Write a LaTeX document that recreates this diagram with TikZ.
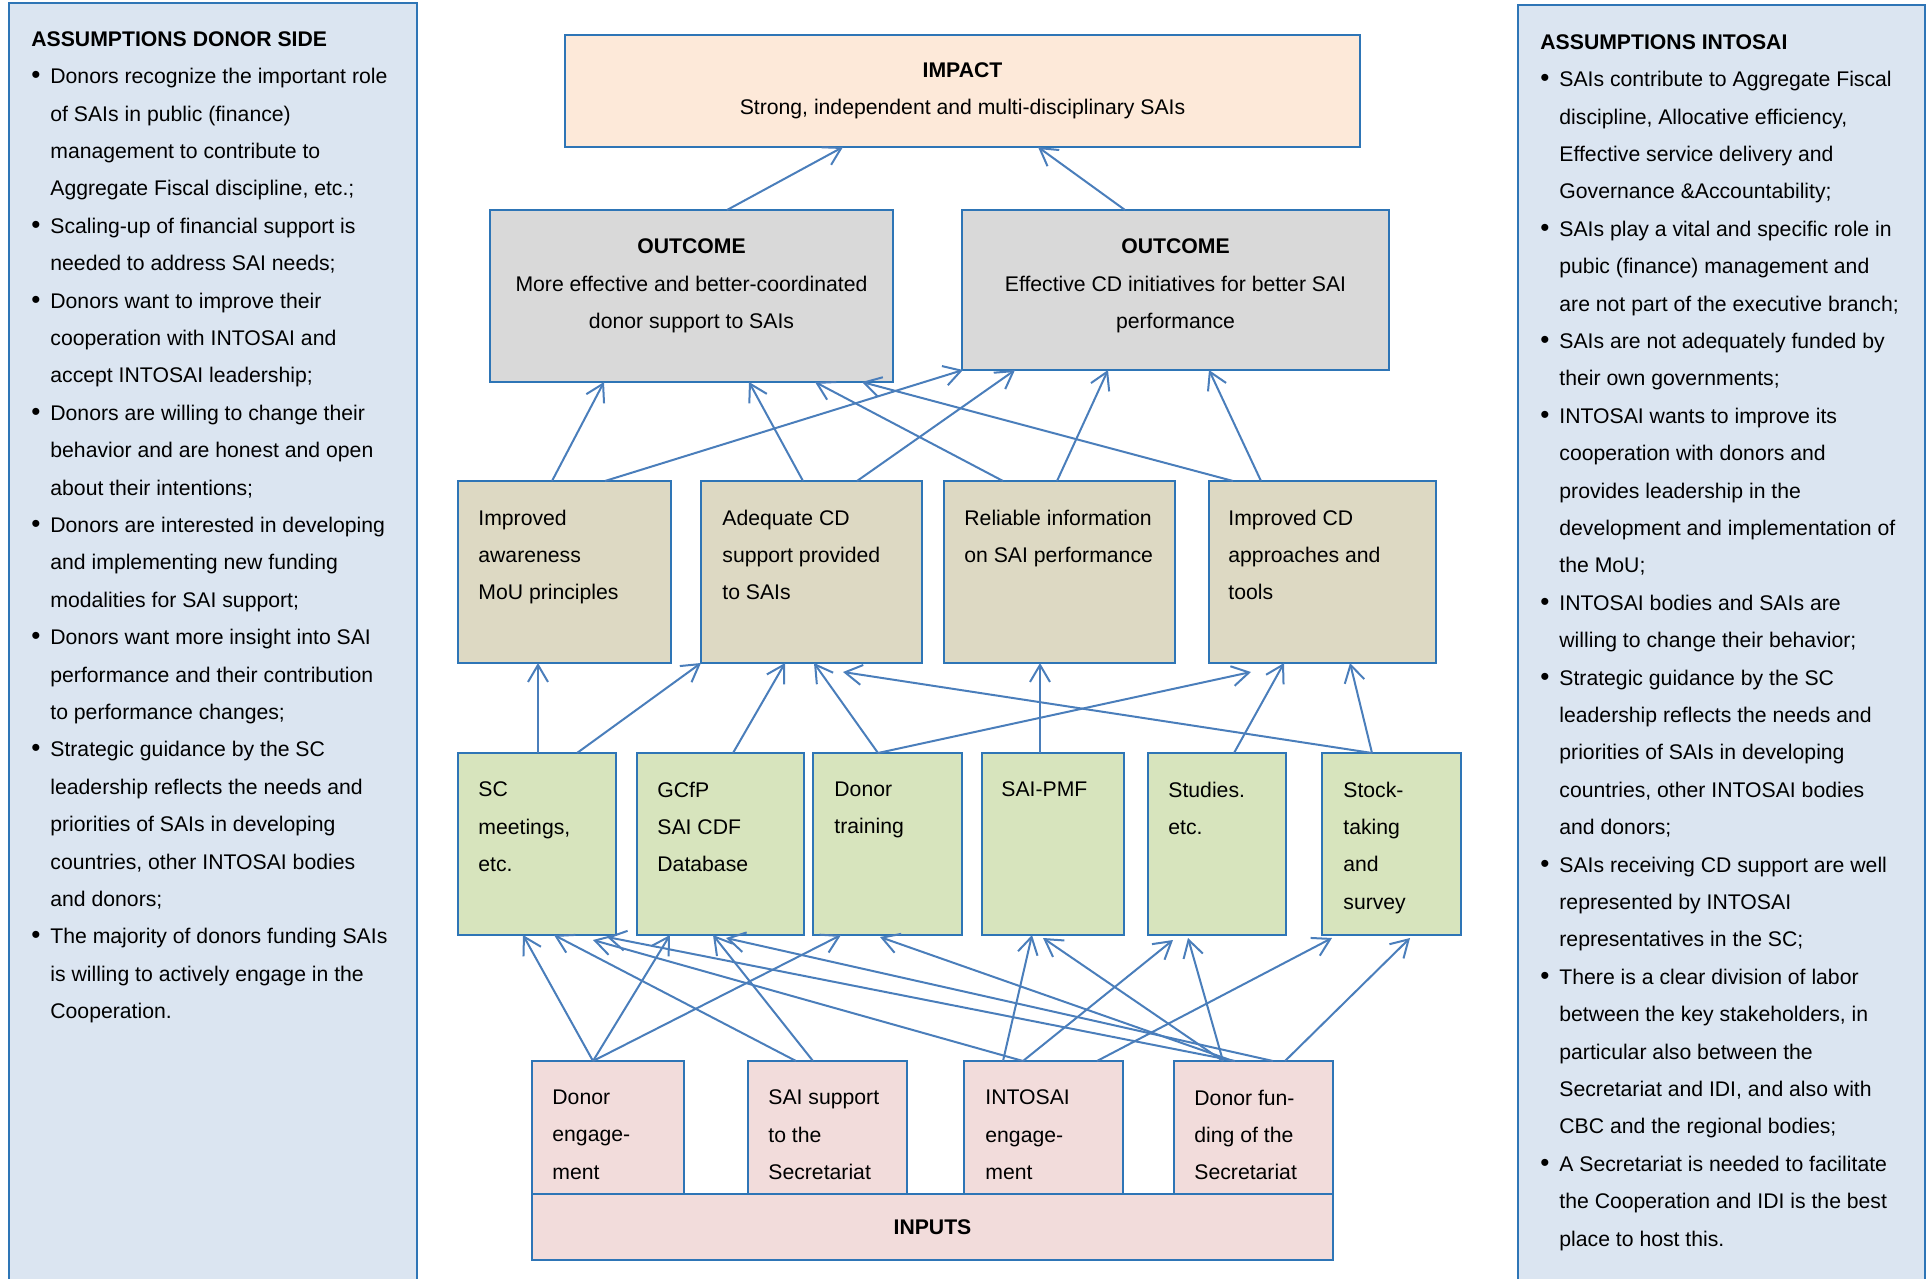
\documentclass[tikz,border=0pt]{standalone}
\usepackage{fontspec}
\setmainfont{Liberation Sans}
\usepackage{tikz}
\usetikzlibrary{positioning,arrows.meta}

\definecolor{boxline}{RGB}{46,117,182}
\definecolor{flowline}{RGB}{74,126,187}
\definecolor{impactfill}{RGB}{253,233,217}
\definecolor{outcomefill}{RGB}{217,217,217}
\definecolor{outputfill}{RGB}{221,217,195}
\definecolor{actfill}{RGB}{215,228,189}
\definecolor{inputfill}{RGB}{242,220,219}
\definecolor{panelfill}{RGB}{219,229,241}

\newcommand{\bul}{\makebox[9.5pt][l]{\fontsize{13}{13}\selectfont\textbullet}}
\newcommand{\ind}{\hspace*{9.5pt}}

\begin{document}
\begin{tikzpicture}[x=0.5pt, y=-0.5pt,
        font=\fontsize{10.6}{18.7}\selectfont,
        cell/.style={draw=boxline, line width=1pt, rectangle, inner sep=0pt, outer sep=0pt},
        impbox/.style={cell, fill=impactfill, align=center},
        outcbox/.style={cell, fill=outcomefill},
        outpbox/.style={cell, fill=outputfill, minimum height=91pt},
        actbox/.style={cell, fill=actfill, minimum height=91pt},
        inpbox/.style={cell, fill=inputfill, minimum height=66.5pt},
        panel/.style={draw=boxline, line width=1.2pt, fill=panelfill, inner sep=0pt, outer sep=0pt,
            anchor=north west, minimum height=650pt},
        btxt/.style={anchor=north west, align=left, inner sep=0pt},
        ctxt/.style={anchor=north, align=center, inner sep=0pt},
        flow/.style={draw=flowline, line width=1pt, -{Straight Barb[length=8.5pt,width=10pt]}}
    ]
        \useasboundingbox (0,0) rectangle (1928,1279);

        % assumption panels
        \node [panel, minimum width=204pt] (donorside) at (9,3) {};
        \node [panel, minimum width=203.5pt] (intosaiside) at (1518,5) {};
        \node [btxt] (donorside-t) at ([xshift=11pt,yshift=-14pt]donorside.north west) {%
            \textbf{ASSUMPTIONS DONOR SIDE}\\
            \bul Donors recognize the important role\\
            \ind of SAIs in public (finance)\\
            \ind management to contribute to\\
            \ind Aggregate Fiscal discipline, etc.;\\
            \bul Scaling-up of financial support is\\
            \ind needed to address SAI needs;\\
            \bul Donors want to improve their\\
            \ind cooperation with INTOSAI and\\
            \ind accept INTOSAI leadership;\\
            \bul Donors are willing to change their\\
            \ind behavior and are honest and open\\
            \ind about their intentions;\\
            \bul Donors are interested in developing\\
            \ind and implementing new funding\\
            \ind modalities for SAI support;\\
            \bul Donors want more insight into SAI\\
            \ind performance and their contribution\\
            \ind to performance changes;\\
            \bul Strategic guidance by the SC\\
            \ind leadership reflects the needs and\\
            \ind priorities of SAIs in developing\\
            \ind countries, other INTOSAI bodies\\
            \ind and donors;\\
            \bul The majority of donors funding SAIs\\
            \ind is willing to actively engage in the\\
            \ind Cooperation.};
        \node [btxt] (intosaiside-t) at ([xshift=11pt,yshift=-14.5pt]intosaiside.north west) {%
            \textbf{ASSUMPTIONS INTOSAI}\\
            \bul SAIs contribute to Aggregate Fiscal\\
            \ind discipline, Allocative efficiency,\\
            \ind Effective service delivery and\\
            \ind Governance \&Accountability;\\
            \bul SAIs play a vital and specific role in\\
            \ind pubic (finance) management and\\
            \ind are not part of the executive branch;\\
            \bul SAIs are not adequately funded by\\
            \ind their own governments;\\
            \bul INTOSAI wants to improve its\\
            \ind cooperation with donors and\\
            \ind provides leadership in the\\
            \ind development and implementation of\\
            \ind the MoU;\\
            \bul INTOSAI bodies and SAIs are\\
            \ind willing to change their behavior;\\
            \bul Strategic guidance by the SC\\
            \ind leadership reflects the needs and\\
            \ind priorities of SAIs in developing\\
            \ind countries, other INTOSAI bodies\\
            \ind and donors;\\
            \bul SAIs receiving CD support are well\\
            \ind represented by INTOSAI\\
            \ind representatives in the SC;\\
            \bul There is a clear division of labor\\
            \ind between the key stakeholders, in\\
            \ind particular also between the\\
            \ind Secretariat and IDI, and also with\\
            \ind CBC and the regional bodies;\\
            \bul A Secretariat is needed to facilitate\\
            \ind the Cooperation and IDI is the best\\
            \ind place to host this.};

        % impact and outcomes
        \node [impbox, minimum width=397.5pt, minimum height=56pt, anchor=north west] (impact) at (565,35)
            {\textbf{IMPACT}\\Strong, independent and multi-disciplinary SAIs};
        \node [outcbox, minimum width=201.5pt, minimum height=86pt, anchor=north west] (outL) at (490,210) {};
        \node [outcbox, minimum width=213.5pt, minimum height=80pt, anchor=north west] (outR) at (962,210) {};
        \node [ctxt] (outL-t) at ([yshift=-14.2pt]outL.north)
            {\textbf{OUTCOME}\\More effective and better-coordinated\\donor support to SAIs};
        \node [ctxt] (outR-t) at ([yshift=-14.2pt]outR.north)
            {\textbf{OUTCOME}\\Effective CD initiatives for better SAI\\performance};

        % outputs
        \node [outpbox, minimum width=106.5pt, anchor=north west] (aware) at (458,481) {};
        \node [outpbox, minimum width=110.5pt, right=15pt of aware] (adequate) {};
        \node [outpbox, minimum width=115.5pt, right=11pt of adequate] (reliable) {};
        \node [outpbox, minimum width=113.5pt, right=17pt of reliable] (impcd) {};
        \node [btxt] (aware-t) at ([xshift=10pt,yshift=-14.2pt]aware.north west) {Improved\\awareness\\MoU principles};
        \node [btxt] (adequate-t) at ([xshift=10.5pt,yshift=-14.2pt]adequate.north west) {Adequate CD\\support provided\\to SAIs};
        \node [btxt] (reliable-t) at ([xshift=10pt,yshift=-14.2pt]reliable.north west) {Reliable information\\on SAI performance};
        \node [btxt] (impcd-t) at ([xshift=9.5pt,yshift=-14.2pt]impcd.north west) {Improved CD\\approaches and\\tools};

        % activities
        \node [actbox, minimum width=79pt, anchor=north west] (sc) at (458,753) {};
        \node [actbox, minimum width=83.5pt, right=10.5pt of sc] (gcfp) {};
        \node [actbox, minimum width=74.5pt, right=4.5pt of gcfp] (dtrain) {};
        \node [actbox, minimum width=71pt, right=10pt of dtrain] (pmf) {};
        \node [actbox, minimum width=69pt, right=12pt of pmf] (studies) {};
        \node [actbox, minimum width=69.5pt, right=18pt of studies] (stock) {};
        \node [btxt] (sc-t) at ([xshift=10pt,yshift=-14.2pt]sc.north west) {SC\\meetings,\\etc.};
        \node [btxt] (gcfp-t) at ([xshift=10pt,yshift=-14.2pt]gcfp.north west) {GCfP\\SAI CDF\\Database};
        \node [btxt] (dtrain-t) at ([xshift=10.5pt,yshift=-14.2pt]dtrain.north west) {Donor\\training};
        \node [btxt] (pmf-t) at ([xshift=9.5pt,yshift=-14.2pt]pmf.north west) {SAI-PMF};
        \node [btxt] (studies-t) at ([xshift=10pt,yshift=-14.2pt]studies.north west) {Studies.\\etc.};
        \node [btxt] (stock-t) at ([xshift=10.5pt,yshift=-14.2pt]stock.north west) {Stock-\\taking\\and\\survey};

        % inputs
        \node [inpbox, minimum width=76pt, anchor=north west] (deng) at (532,1061) {};
        \node [inpbox, minimum width=79.5pt, right=32pt of deng] (ssup) {};
        \node [inpbox, minimum width=79.5pt, right=28.5pt of ssup] (ieng) {};
        \node [inpbox, minimum width=79.5pt, right=25.5pt of ieng] (dfund) {};
        \node [btxt] (deng-t) at ([xshift=10pt,yshift=-14.2pt]deng.north west) {Donor\\engage-\\ment};
        \node [btxt] (ssup-t) at ([xshift=10pt,yshift=-14.2pt]ssup.north west) {SAI support\\to the\\Secretariat};
        \node [btxt] (ieng-t) at ([xshift=10.5pt,yshift=-14.2pt]ieng.north west) {INTOSAI\\engage-\\ment};
        \node [btxt] (dfund-t) at ([xshift=10pt,yshift=-14.2pt]dfund.north west) {Donor fun-\\ding of the\\Secretariat};
        \node [inpbox, minimum width=400.5pt, minimum height=33pt, anchor=north west] (inputs) at (deng.south west) {\textbf{INPUTS}};

        % outcomes -> impact
        \draw [flow] ([xshift=118.5pt]outL.north west) -- ([xshift=139pt]impact.south west);
        \draw [flow] ([xshift=81.5pt]outR.north west) -- ([xshift=236.5pt]impact.south west);

        % outputs -> outcomes
        \draw [flow] ([xshift=47pt]aware.north west) -- ([xshift=57pt]outL.south west);
        \draw [flow] ([xshift=73.5pt]aware.north west) -- ([xshift=0.5pt]outR.south west);
        \draw [flow] ([xshift=51pt]adequate.north west) -- ([xshift=129.5pt]outL.south west);
        \draw [flow] ([xshift=78pt]adequate.north west) -- ([xshift=26.5pt]outR.south west);
        \draw [flow] ([xshift=29.5pt]reliable.north west) -- ([xshift=162.5pt]outL.south west);
        \draw [flow] ([xshift=56.5pt]reliable.north west) -- ([xshift=73pt]outR.south west);
        \draw [flow] ([xshift=12pt]impcd.north west) -- ([xshift=186pt]outL.south west);
        \draw [flow] ([xshift=26pt]impcd.north west) -- ([xshift=123.5pt]outR.south west);

        % activities -> outputs
        \draw [flow] ([xshift=40pt]sc.north west) -- ([xshift=40pt]aware.south west);
        \draw [flow] ([xshift=59.5pt]sc.north west) -- (adequate.south west);
        \draw [flow] ([xshift=48pt]gcfp.north west) -- ([xshift=42pt]adequate.south west);
        \draw [flow] ([xshift=32.5pt]dtrain.north west) -- ([xshift=56.5pt]adequate.south west);
        \draw [flow] ([xshift=32.5pt]dtrain.north west) -- ([xshift=21pt,yshift=-4.5pt]impcd.south west);
        \draw [flow] ([xshift=29pt]pmf.north west) -- ([xshift=48pt]reliable.south west);
        \draw [flow] ([xshift=43pt]studies.north west) -- ([xshift=37.5pt]impcd.south west);
        \draw [flow] ([xshift=25pt]stock.north west) -- ([xshift=70.5pt]impcd.south west);
        \draw [flow] ([xshift=25pt]stock.north west) -- ([xshift=71pt,yshift=-4.5pt]adequate.south west);

        % inputs -> activities
        \draw [flow] ([xshift=30.5pt]deng.north west) -- ([xshift=32.5pt]sc.south west);
        \draw [flow] ([xshift=30.5pt]deng.north west) -- ([xshift=16.5pt]gcfp.south west);
        \draw [flow] ([xshift=30.5pt]deng.north west) -- ([xshift=14pt]dtrain.south west);
        \draw [flow] ([xshift=24pt]ssup.north west) -- ([xshift=48pt]sc.south west);
        \draw [flow] ([xshift=32.5pt]ssup.north west) -- ([xshift=38pt]gcfp.south west);
        \draw [flow] ([xshift=29.5pt]ieng.north west) -- ([xshift=67.5pt,yshift=-2.5pt]sc.south west);
        \draw [flow] ([xshift=19.5pt]ieng.north west) -- ([xshift=25pt]pmf.south west);
        \draw [flow] ([xshift=29.5pt]ieng.north west) -- ([xshift=12.5pt,yshift=-2.5pt]studies.south west);
        \draw [flow] ([xshift=66.5pt]ieng.north west) -- ([xshift=5pt,yshift=-1.5pt]stock.south west);
        \draw [flow] ([xshift=30.5pt]dfund.north west) -- ([xshift=74.5pt,yshift=-1pt]sc.south west);
        \draw [flow] ([xshift=49.5pt]dfund.north west) -- ([xshift=44.5pt,yshift=-1.5pt]gcfp.south west);
        \draw [flow] ([xshift=29.5pt]dfund.north west) -- ([xshift=33.5pt,yshift=-1pt]dtrain.south west);
        \draw [flow] ([xshift=24.5pt]dfund.north west) -- ([xshift=30.5pt,yshift=-1.5pt]pmf.south west);
        \draw [flow] ([xshift=24.5pt]dfund.north west) -- ([xshift=20pt,yshift=-1.5pt]studies.south west);
        \draw [flow] ([xshift=55.5pt]dfund.north west) -- ([xshift=44pt,yshift=-1.5pt]stock.south west);
    \end{tikzpicture}
\end{document}
